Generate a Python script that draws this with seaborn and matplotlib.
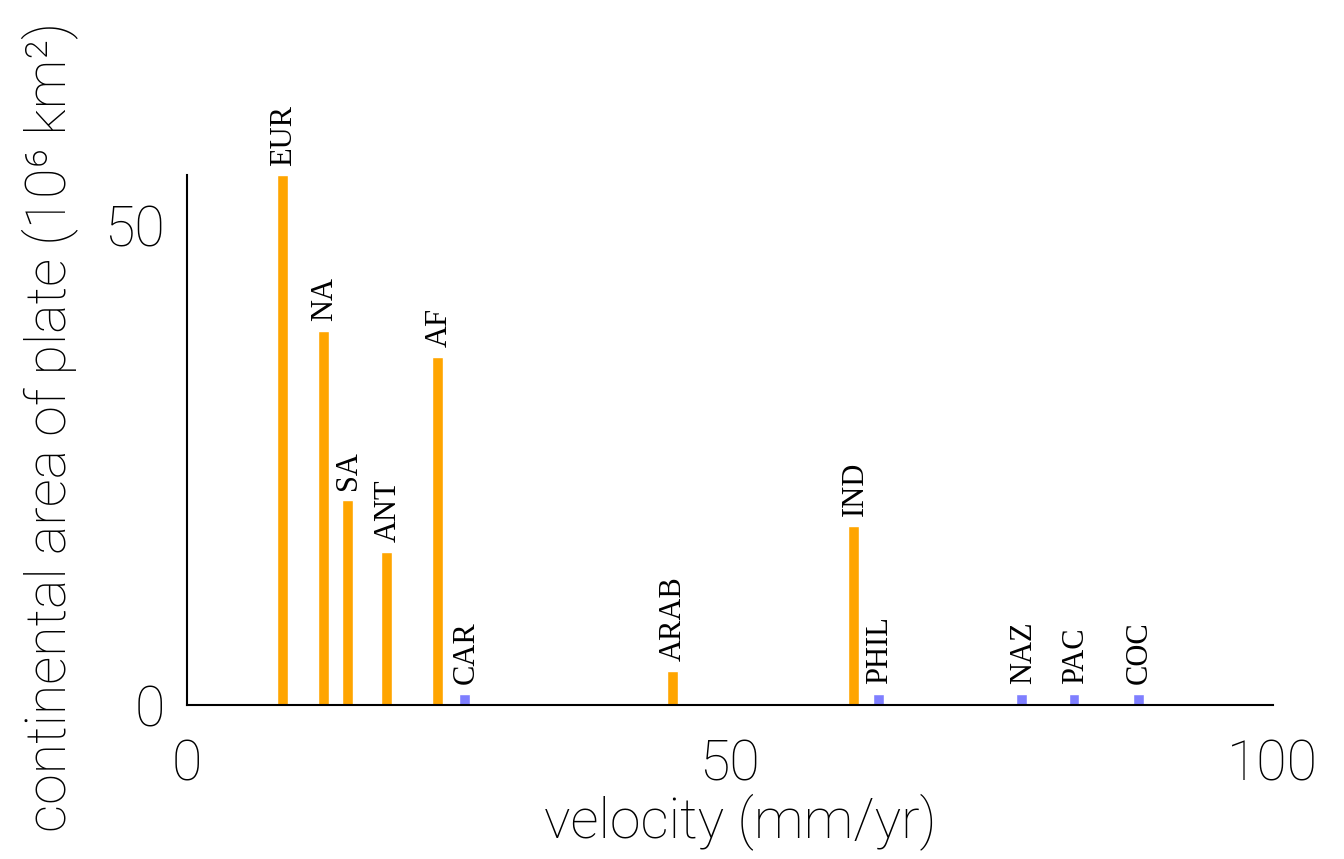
import numpy as np
import pandas as pd
import matplotlib
matplotlib.use("Agg")
import matplotlib.pyplot as plt
import seaborn as sns

plates = ["EUR", "NA", "SA", "ANT", "AF", "CAR", "ARAB", "IND", "PHIL", "NAZ", "PAC", "COC"]
velocity = [8.8, 12.6, 14.8, 18.4, 23.1, 25.6, 44.7, 61.4, 63.7, 76.9, 81.7, 87.6]
area = [55.2, 39.0, 21.4, 16.0, 36.3, 1.15, 3.6, 18.7, 1.15, 1.15, 1.15, 1.15]
kind = ["continental"] * 5 + ["oceanic"] + ["continental"] * 2 + ["oceanic"] * 4

df = pd.DataFrame({"plate": plates, "velocity": velocity, "area": area, "kind": kind})

sns.set_style("white")
plt.rcParams["font.family"] = ["Roboto", "DejaVu Sans"]
plt.rcParams["text.color"] = "black"
plt.rcParams["axes.labelcolor"] = "black"
plt.rcParams["xtick.color"] = "black"
plt.rcParams["ytick.color"] = "black"

fig = plt.figure(figsize=(13.44, 8.59), dpi=100)
ax = fig.add_axes([0.139, 0.179, 0.808, 0.617])

min_gap = np.min(np.diff(np.unique(df["velocity"])))
sns.barplot(data=df, x="velocity", y="area", hue="kind", native_scale=True,
            palette={"continental": "#ffa500", "oceanic": "#7f7fff"},
            saturation=1, width=1.0 / min_gap, dodge=False, legend=False,
            errorbar=None, edgecolor="white", linewidth=1.0, ax=ax)

for p, v, a in zip(plates, velocity, area):
    ax.annotate(p, (v, a), xytext=(1, 7), textcoords="offset points",
                rotation=90, ha="center", va="bottom", color="black",
                family="Liberation Serif", fontsize=22)

ax.set_xlim(0, 100)
ax.set_ylim(0, max(area))
ax.set_xticks([0, 50, 100])
ax.set_yticks([0, 50])
ax.tick_params(axis="both", length=0, labelsize=40, labelcolor="black")
ax.tick_params(axis="x", pad=24)
ax.tick_params(axis="y", pad=16)
for lbl in ax.get_xticklabels() + ax.get_yticklabels():
    lbl.set_fontweight("light")

ax.set_xlabel("velocity (mm/yr)", fontsize=40, fontweight="light", color="black")
ax.xaxis.set_label_coords(0.51, -0.165)
ax.set_ylabel("continental area of plate (10\u2076 km\u00b2)", fontsize=40,
              fontweight="light", color="black")
ax.yaxis.set_label_coords(-0.1, 0.525)

sns.despine(ax=ax)
for s in ["left", "bottom"]:
    ax.spines[s].set_color("black")
    ax.spines[s].set_linewidth(1.5)

fig.savefig("out.png", dpi=100)
